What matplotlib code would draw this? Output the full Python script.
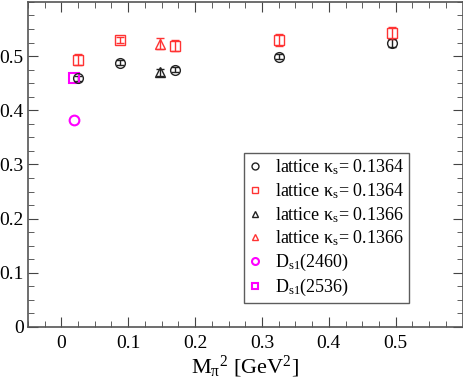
import matplotlib
matplotlib.use("Agg")
import matplotlib.pyplot as plt
from matplotlib.ticker import MultipleLocator
from matplotlib.lines import Line2D

plt.rcParams['font.family'] = ['Liberation Serif', 'DejaVu Serif']
plt.rcParams['mathtext.fontset'] = 'custom'
plt.rcParams['mathtext.rm'] = 'Liberation Serif'
plt.rcParams['mathtext.it'] = 'Liberation Serif:italic'
plt.rcParams['mathtext.bf'] = 'Liberation Serif:bold'

# kappa_s = 0.1364, black circles
x_c = [0.025, 0.088, 0.170, 0.326, 0.495]
y_c = [0.459, 0.488, 0.475, 0.499, 0.524]
e_c = [0.005, 0.005, 0.005, 0.005, 0.007]
# kappa_s = 0.1364, red squares
x_s = [0.025, 0.088, 0.170, 0.326, 0.495]
y_s = [0.493, 0.530, 0.519, 0.529, 0.543]
e_s = [0.010, 0.006, 0.010, 0.011, 0.011]
# kappa_s = 0.1366
x_t = [0.148]
y_tb = [0.470]
e_tb = [0.006]
y_tr = [0.523]
e_tr = [0.010]
# experiment
x_exp = [0.0195]
y_2460 = [0.382]
y_2536 = [0.459]

labels = [r'lattice $\mathrm{\kappa}_{\mathrm{s}}$= 0.1364', r'lattice $\mathrm{\kappa}_{\mathrm{s}}$= 0.1364',
          r'lattice $\mathrm{\kappa}_{\mathrm{s}}$= 0.1366', r'lattice $\mathrm{\kappa}_{\mathrm{s}}$= 0.1366',
          r'D$_{\mathrm{s1}}$(2460)', r'D$_{\mathrm{s1}}$(2536)']

fig = plt.figure(figsize=(4.64, 3.82), dpi=100)
ax = fig.add_axes([0.060, 0.144, 0.937, 0.851])

ms = 7
red = '#ff3333'
black = '#222222'
common = dict(linestyle='none', markerfacecolor='none', capsize=3, elinewidth=1, markeredgewidth=1)
ax.errorbar(x_c, y_c, yerr=e_c, marker='o', color=black, ms=ms, **common)
ax.errorbar(x_s, y_s, yerr=e_s, marker='s', color=red, ms=ms, **common)
ax.errorbar(x_t, y_tb, yerr=e_tb, marker='^', color=black, ms=ms, **common)
ax.errorbar(x_t, y_tr, yerr=e_tr, marker='^', color=red, ms=ms, **common)
ax.plot(x_exp, y_2460, marker='o', color='magenta', ms=ms, mfc='none', mew=1.5, ls='none')
ax.plot(x_exp, y_2536, marker='s', color='magenta', ms=ms, mfc='none', mew=1.5, ls='none')

handles = [
    Line2D([], [], marker='o', color=black, mfc='none', ls='none', ms=5, mew=1),
    Line2D([], [], marker='s', color=red, mfc='none', ls='none', ms=5, mew=1),
    Line2D([], [], marker='^', color=black, mfc='none', ls='none', ms=5, mew=1),
    Line2D([], [], marker='^', color=red, mfc='none', ls='none', ms=5, mew=1),
    Line2D([], [], marker='o', color='magenta', mfc='none', ls='none', ms=5, mew=1.5),
    Line2D([], [], marker='s', color='magenta', mfc='none', ls='none', ms=5, mew=1.5),
]

ax.set_xlim(-0.05, 0.6)
ax.set_ylim(0, 0.6)
ax.xaxis.set_minor_locator(MultipleLocator(0.025))
ax.yaxis.set_minor_locator(MultipleLocator(0.025))
ax.set_xticks([0, 0.1, 0.2, 0.3, 0.4, 0.5])
ax.set_xticklabels(['0', '0.1', '0.2', '0.3', '0.4', '0.5'])
ax.set_yticks([0, 0.1, 0.2, 0.3, 0.4, 0.5])
ax.set_yticklabels(['0', '0.1', '0.2', '0.3', '0.4', '0.5'])
ax.tick_params(which='both', direction='in', top=True, right=True, labelsize=14, colors='#444444', labelcolor='black')
ax.tick_params(which='major', length=7)
ax.tick_params(which='minor', length=4)
ax.tick_params(axis='x', pad=6)
ax.tick_params(axis='y', pad=3)
for s in ax.spines.values():
    s.set_color('#555555')
    s.set_linewidth(1.2)

ax.set_xlabel(r'M$_{\mathrm{\pi}}$$^{2}$ [GeV$^{2}$]', fontsize=16, labelpad=1)

leg = ax.legend(handles, labels, loc='lower right', bbox_to_anchor=(0.876, 0.074), borderaxespad=0,
                fontsize=13, frameon=True, fancybox=False,
                edgecolor='#333333', handlelength=0.8, handletextpad=0.7, borderpad=0.25, labelspacing=0.22,
                numpoints=1)
leg.get_frame().set_linewidth(1.0)

fig.savefig('out.png', dpi=100)
